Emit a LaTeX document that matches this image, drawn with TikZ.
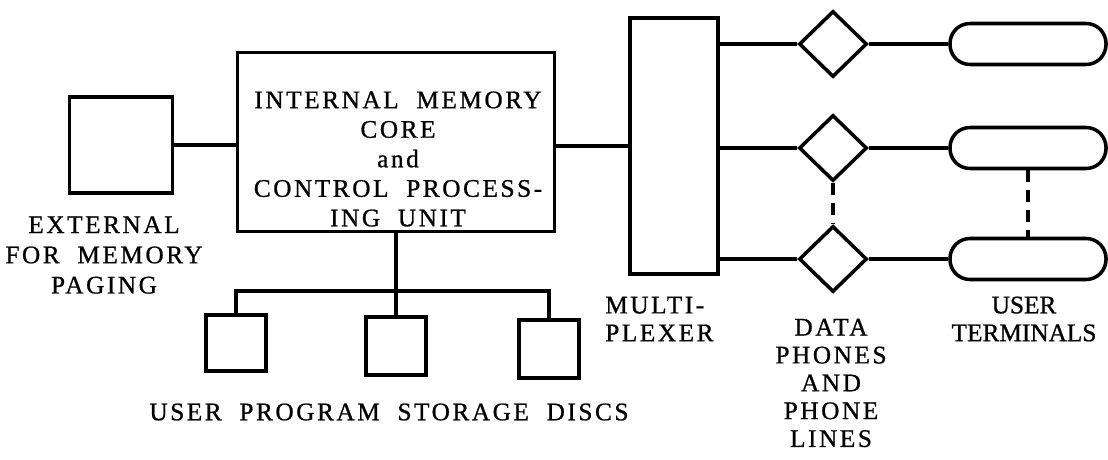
\documentclass[tikz,border=0pt]{standalone}
\usepackage{fontspec}
\newfontfamily\typefont[LetterSpace=10, WordSpace=2, FakeBold=0.8]{Liberation Serif}
\newfontfamily\tighttype[LetterSpace=0, FakeBold=0.8]{Liberation Serif}
\usepackage{tikz}
\usetikzlibrary{shapes.geometric,positioning}

\begin{document}
\begin{tikzpicture}[
    x=0.025cm, y=-0.025cm,
    unit/.style={rectangle, draw=black, line width=2.5pt, inner sep=0pt},
    phone/.style={diamond, draw=black, line width=2.5pt, inner sep=0pt, minimum width=1.7cm, minimum height=1.65cm},
    terminal/.style={rectangle, draw=black, line width=2.5pt, rounded corners=0.5cm, minimum width=3.9cm, minimum height=1.025cm},
    lbl/.style={inner sep=0pt, align=center, font=\typefont\fontsize{18}{19.8}\selectfont},
    link/.style={line width=2.5pt},
    dashlink/.style={line width=2.5pt, dash pattern=on 0.3cm off 0.2cm}
]
\useasboundingbox (0,0) rectangle (1108,459);

% Nodes
\node[unit, minimum width=7.925cm, minimum height=4.475cm] (cpu) at (396,142) {};
\node[lbl, font=\typefont\fontsize{18}{21}\selectfont] (cpulbl) at (398,159) {INTERNAL MEMORY\\CORE\\and\\CONTROL PROCESS-\\ING UNIT};
\node[unit, minimum width=2.575cm, minimum height=2.4cm] (ext) at (121,145) {};
\node[unit, minimum width=2.2cm, minimum height=6.4cm] (mux) at (674,146) {};

\node[unit, minimum width=1.5cm, minimum height=1.4cm] (disc1) at (236,343) {};
\node[unit, minimum width=1.5cm, minimum height=1.45cm] (disc2) at (396,346) {};
\node[unit, minimum width=1.5cm, minimum height=1.45cm] (disc3) at (549,349) {};
\coordinate (bus) at (396,291);

\node[phone] (dp1) at (833,44) {};
\node[phone] (dp2) at (833,148) {};
\node[phone] (dp3) at (833,259) {};

\node[terminal] (term1) at (1028,44) {};
\node[terminal] (term2) at (1028,148) {};
\node[terminal] (term3) at (1028,259) {};

% Labels
\node[lbl, font=\typefont\fontsize{18}{21.5}\selectfont] (extlbl) at (104,255) {EXTERNAL\\FOR MEMORY\\PAGING};
\node[lbl] (disclbl) at (389,412) {USER PROGRAM STORAGE DISCS};
\node[lbl, align=left, anchor=west] (muxlbl) at (605,319) {MULTI-\\PLEXER};
\node[lbl] (dplbl) at (831,383) {DATA\\PHONES\\AND\\PHONE\\LINES};
\node[lbl, font=\tighttype\fontsize{18}{19.8}\selectfont] (termlbl) at (1024,319) {USER\\TERMINALS};

% Lines
\draw[link] (ext.east) -- (ext.east -| cpu.west);
\draw[link] (cpu.east |- mux.west) -- (mux.west);
\draw[link] (cpu.south) -- (bus);
\draw[link] (disc1.north) |- (bus) -| (disc3.north);
\draw[link] (bus) -- (disc2.north);
\draw[link] (mux.east |- dp1) -- (dp1.west);
\draw[link] (mux.east |- dp2) -- (dp2.west);
\draw[link] (mux.east |- dp3) -- (dp3.west);
\draw[link] (dp1.east) -- (term1.west);
\draw[link] (dp2.east) -- (term2.west);
\draw[link] (dp3.east) -- (term3.west);
\draw[dashlink] (dp2.south) -- (dp3.north);
\draw[dashlink] (term2.south) -- (term3.north);

\end{tikzpicture}
\end{document}
